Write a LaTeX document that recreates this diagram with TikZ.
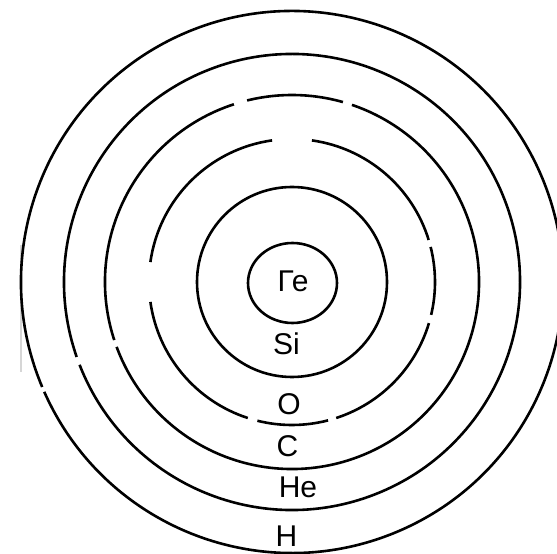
\documentclass[tikz,border=0pt]{standalone}
\usepackage{fontspec}
\setmainfont{Liberation Sans}
\newcommand\ringarc[3]{\draw[ring] (c) ++(#1:#3) arc[start angle=#1, end angle=#2, radius=#3];}
\begin{document}
\begin{tikzpicture}[x=1pt,y=1pt,
  ring/.style={line width=2.6pt, black},
  lbl/.style={anchor=base, inner sep=0pt, font=\fontsize{30}{36}\selectfont}]
\useasboundingbox (0,0) rectangle (557,554);
\fill[white] (0,0) rectangle (557,554);
\begin{scope}
\clip (0,0) rectangle (557,554);
\draw[line width=2.6pt, black!16] (21,554-245) -- (21,554-372);
\coordinate (c) at (292,272);
% Ge
\draw[ring] (292.5,271) ellipse [x radius=44.5, y radius=40];
% Si
\draw[ring] (c) circle [radius=95];
% O
\ringarc{17.1}{82}{143}
\ringarc{98}{172}{143}
\ringarc{188}{252}{143}
\ringarc{256}{284.6}{143}
\ringarc{288}{343.3}{143}
\ringarc{346.7}{374.2}{143}
% C
\ringarc{74.2}{103.9}{187}
\ringarc{108.1}{198.1}{187}
\ringarc{200.3}{431.3}{187}
% He
\ringarc{201.3}{559.2}{228}
% H
\ringarc{203.9}{562.8}{271}
\end{scope}
\node[lbl] (ge) at (293, 554-292) {Ге};
\node[lbl] (si) at (286.5, 554-355) {Si};
\node[lbl] (o)  at (289, 554-415) {O};
\node[lbl] (cl) at (287.5, 554-457) {C};
\node[lbl] (he) at (298, 554-498) {He};
\node[lbl] (h)  at (286.5, 554-547) {H};
\end{tikzpicture}
\end{document}
